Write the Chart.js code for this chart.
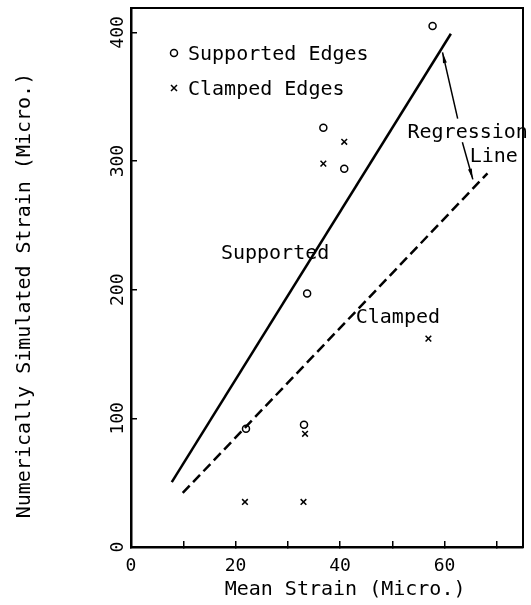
<!DOCTYPE html>
<html>
<head>
<meta charset="utf-8">
<script src="https://cdn.jsdelivr.net/npm/chart.js@4.4.1/dist/chart.umd.min.js"></script>
<style>
  html, body { margin: 0; padding: 0; background: #fff; }
  #wrap { width: 531px; height: 605px; }
</style>
</head>
<body>
<div id="wrap"><canvas id="strainChart" width="531" height="605"></canvas></div>
<script>
// --- Data ---
const supportedX = [57.7, 36.8, 40.8, 33.7, 22.0, 33.1];
const supportedY = [405, 326, 294, 197, 92, 95];
const clampedX = [40.8, 36.8, 56.9, 33.3, 21.8, 33.0];
const clampedY = [315, 298, 162, 88, 35, 35];

// regression lines, end points
const supportedFitX = [7.8, 61.2];
const supportedFitY = [50.5, 399];
const clampedFitX = [9.9, 68.2];
const clampedFitY = [42, 290.5];

// axes
const xTickValues = [0, 10, 20, 30, 40, 50, 60, 70];
const xTickLabels = ['0', '', '20', '', '40', '', '60', ''];
const yTickValues = [0, 100, 200, 300, 400];
const yTickLabels = ['0', '100', '200', '300', '400'];

// text notes and arrows on the plot (data units)
const notes = [
  { text: 'Supported', x: 17.2, y: 228 },
  { text: 'Clamped', x: 43.0, y: 178 },
  { text: 'Regression', x: 52.9, y: 322 },
  { text: 'Line', x: 64.8, y: 303 }
];
const arrows = [
  { from: [62.5, 333], to: [59.6, 384.5] },
  { from: [63.4, 314.6], to: [65.4, 285.8] }
];

const FONT = "'DejaVu Sans Mono', monospace";
const pts = (xs, ys) => xs.map((x, i) => ({ x, y: ys[i] }));

// --- draw a marker like the dataset's ---
function marker(ctx, style, x, y, r) {
  ctx.save();
  ctx.strokeStyle = '#000';
  ctx.lineWidth = 1.5;
  ctx.beginPath();
  if (style === 'circle') {
    ctx.arc(x, y, r, 0, Math.PI * 2);
  } else {
    ctx.moveTo(x - r, y - r); ctx.lineTo(x + r, y + r);
    ctx.moveTo(x + r, y - r); ctx.lineTo(x - r, y + r);
  }
  ctx.stroke();
  ctx.restore();
}

function arrow(ctx, x1, y1, x2, y2) {
  const a = Math.atan2(y2 - y1, x2 - x1);
  const len = 11, spread = 0.18;
  ctx.beginPath();
  ctx.moveTo(x1, y1);
  ctx.lineTo(x2, y2);
  ctx.stroke();
  ctx.beginPath();
  ctx.moveTo(x2, y2);
  ctx.lineTo(x2 - len * Math.cos(a - spread), y2 - len * Math.sin(a - spread));
  ctx.lineTo(x2 - len * Math.cos(a + spread), y2 - len * Math.sin(a + spread));
  ctx.closePath();
  ctx.fill();
}

// --- plugin: frame, legend and notes ---
const figurePlugin = {
  id: 'figure',
  afterDatasetsDraw(chart) {
    const { ctx, chartArea: area, scales: { x, y } } = chart;
    ctx.save();
    ctx.fillStyle = '#000';
    ctx.strokeStyle = '#000';
    ctx.font = '20px ' + FONT;
    ctx.textBaseline = 'middle';
    ctx.textAlign = 'left';

    // legend, top left inside the frame
    const items = chart.data.datasets.filter(d => d.type !== 'line');
    items.forEach((d, i) => {
      const rowY = area.top + 47 + i * 35;
      marker(ctx, d.pointStyle, area.left + 43, rowY - 2, d.pointStyle === 'circle' ? 3.5 : 3);
      ctx.fillText(d.label, area.left + 57, rowY);
    });

    notes.forEach(n => ctx.fillText(n.text, x.getPixelForValue(n.x), y.getPixelForValue(n.y)));

    ctx.lineWidth = 1.5;
    arrows.forEach(a => arrow(ctx,
      x.getPixelForValue(a.from[0]), y.getPixelForValue(a.from[1]),
      x.getPixelForValue(a.to[0]), y.getPixelForValue(a.to[1])));
    ctx.restore();
  },
  afterDraw(chart) {
    const { ctx, chartArea: a } = chart;
    ctx.save();
    ctx.strokeStyle = '#000';
    ctx.lineWidth = 2;
    ctx.strokeRect(a.left, a.top, a.right - a.left, a.bottom - a.top);
    ctx.restore();
  }
};

new Chart(document.getElementById('strainChart'), {
  type: 'scatter',
  data: {
    datasets: [
      {
        label: 'Supported Edges',
        data: pts(supportedX, supportedY),
        pointStyle: 'circle',
        pointRadius: 3.5,
        borderWidth: 1.5,
        borderColor: '#000',
        backgroundColor: 'rgba(0,0,0,0)'
      },
      {
        label: 'Clamped Edges',
        data: pts(clampedX, clampedY),
        pointStyle: 'crossRot',
        pointRadius: 4,
        borderWidth: 1.5,
        borderColor: '#000',
        backgroundColor: '#000'
      },
      {
        type: 'line',
        label: 'Supported',
        data: pts(supportedFitX, supportedFitY),
        borderColor: '#000',
        borderWidth: 2.5,
        pointRadius: 0,
        fill: false
      },
      {
        type: 'line',
        label: 'Clamped',
        data: pts(clampedFitX, clampedFitY),
        borderColor: '#000',
        borderWidth: 2.5,
        borderDash: [10, 5],
        pointRadius: 0,
        fill: false
      }
    ]
  },
  options: {
    responsive: false,
    animation: false,
    layout: { padding: { top: 8, right: 8, left: 0, bottom: 0 } },
    plugins: { legend: { display: false }, tooltip: { enabled: false } },
    scales: {
      x: {
        type: 'linear',
        position: 'bottom',
        min: 0,
        max: 75,
        afterBuildTicks: s => { s.ticks = xTickValues.map(v => ({ value: v })); },
        afterFit: s => { s.height = 58; s.paddingLeft = 0; s.paddingRight = 0; },
        ticks: {
          autoSkip: false,
          minRotation: 0,
          maxRotation: 0,
          padding: 15,
          color: '#000',
          font: { family: FONT, size: 18 },
          callback: v => xTickLabels[xTickValues.indexOf(v)]
        },
        grid: { drawOnChartArea: false, tickLength: -6, color: '#000', lineWidth: 1.5 },
        border: { color: '#000', width: 2.5 },
        title: {
          display: true,
          text: '   Mean Strain (Micro.)',
          color: '#000',
          font: { family: FONT, size: 20 },
          padding: { top: 0, bottom: 3 }
        }
      },
      y: {
        type: 'linear',
        min: 0,
        max: 419,
        afterBuildTicks: s => { s.ticks = yTickValues.map(v => ({ value: v })); },
        afterFit: s => { s.width = 131; s.paddingTop = 0; s.paddingBottom = 0; },
        ticks: {
          minRotation: 90,
          maxRotation: 90,
          crossAlign: 'center',
          padding: 2,
          color: '#000',
          font: { family: FONT, size: 18 },
          callback: v => yTickLabels[yTickValues.indexOf(v)]
        },
        grid: { drawOnChartArea: false, tickLength: -6, color: '#000', lineWidth: 1.5 },
        border: { color: '#000', width: 2.5 },
        title: {
          display: true,
          text: 'Numerically Simulated Strain (Micro.)   ',
          color: '#000',
          font: { family: FONT, size: 20 },
          padding: { top: 13, bottom: 0 }
        }
      }
    }
  },
  plugins: [figurePlugin]
});
</script>
</body>
</html>
